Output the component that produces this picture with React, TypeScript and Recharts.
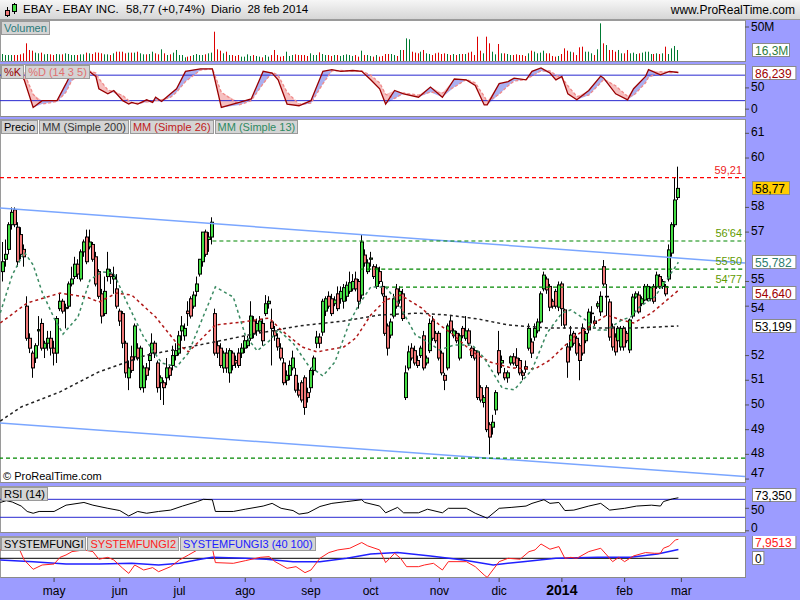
import React from "react";
import {
  ComposedChart,
  Bar,
  Line,
  Area,
  XAxis,
  YAxis,
  ReferenceLine,
} from "recharts";

const FONT = "Arial, 'Liberation Sans', sans-serif";
const LAVENDER = "#9c9cff";
const X_DOMAIN: [number, number] = [-1.1, 248.3];
const GREEN = "#44dd44";
const RED = "#f07878";

// daily candles, 8 abr 2013 .. 28 feb 2014
const opens = [
  55.4, 55.9, 56.3, 57.3, 57.9, 57.2, 56.9, 56.3, 54.0, 52.7,
  52.1, 51.9, 53.0, 53.3, 52.3, 52.5, 52.7, 52.3, 52.1, 53.9,
  54.2, 53.9, 54.0, 54.9, 55.2, 55.7, 55.1, 56.2, 56.8, 56.4,
  56.5, 56.0, 55.4, 54.5, 53.7, 55.2, 55.3, 55.1, 54.7, 53.8,
  53.7, 52.5, 51.1, 51.95, 51.95, 52.3, 50.7, 50.7, 51.5, 51.8,
  52.1, 52.5, 51.7, 50.9, 50.9, 51.1, 51.5, 51.6, 52.0, 52.1,
  53.0, 52.8, 53.8, 54.3, 54.0, 54.6, 55.3, 55.8, 57.0, 56.7,
  56.8, 53.7, 52.4, 52.3, 51.5, 52.1, 51.3, 52.1, 51.8, 52.1,
  52.1, 52.3, 52.4, 52.7, 53.4, 53.0, 53.0, 53.3, 53.7, 54.1,
  53.36, 53.0, 52.7, 52.3, 51.7, 51.0, 51.2, 51.5, 51.2, 50.6,
  50.9, 51.1, 50.5, 50.7, 51.4, 52.5, 52.75, 52.95, 53.8, 54.4,
  54.3, 54.1, 54.5, 54.3, 54.2, 54.4, 54.6, 54.7, 55.1, 55.0,
  54.45, 56.07, 55.4, 55.9, 55.6, 54.8, 55.4, 54.8, 54.4, 53.2,
  52.83, 53.6, 54.7, 54.25, 54.5, 50.3, 51.5, 52.3, 52.2, 51.8,
  52.0, 52.8, 51.7, 52.2, 53.4, 52.9, 52.9, 52.1, 51.2, 51.5,
  53.4, 52.8, 52.9, 51.9, 53.1, 52.7, 53.0, 52.3, 52.2, 52.15,
  50.7, 50.1, 50.7, 49.2, 49.1, 49.8, 52.2, 51.7, 51.3, 51.1,
  51.7, 51.95, 51.9, 51.8, 51.3, 51.55, 52.3, 52.55, 52.75, 53.0,
  53.36, 54.7, 55.1, 54.8, 54.2, 54.6, 53.96, 54.9, 53.85, 52.35,
  52.35, 52.9, 52.7, 52.4, 53.1, 52.6, 53.04, 53.7, 53.4, 54.0,
  53.77, 55.6, 54.4, 54.17, 53.16, 52.75, 52.6, 52.35, 53.1, 52.9,
  52.23, 53.6, 54.37, 54.45, 54.1, 54.25, 54.3, 54.3, 54.8, 54.78,
  55.2, 54.8, 54.8, 55.1, 56.15, 57.3, 58.4,
];
const highs = [
  56.6, 56.7, 57.4, 58.0, 58.0, 57.4, 57.2, 56.5, 54.4, 52.9,
  52.2, 52.5, 53.6, 53.5, 52.6, 53.0, 53.0, 52.6, 53.6, 54.5,
  54.3, 54.1, 55.0, 55.6, 56.0, 55.9, 56.3, 56.7, 57.1, 57.1,
  56.6, 56.2, 55.5, 54.7, 55.2, 56.2, 55.5, 55.6, 55.3, 53.9,
  53.8, 52.6, 51.8, 52.4, 53.3, 52.5, 52.4, 51.6, 51.7, 52.1,
  52.9, 52.6, 51.8, 51.2, 51.0, 51.9, 51.6, 52.4, 52.5, 53.0,
  53.6, 53.3, 54.2, 54.4, 54.6, 55.2, 55.9, 57.0, 57.1, 57.0,
  57.6, 53.9, 52.6, 52.5, 52.2, 52.3, 52.3, 52.2, 52.0, 52.3,
  52.5, 52.8, 52.8, 54.2, 53.6, 53.5, 53.6, 53.5, 54.45, 54.4,
  53.9, 53.2, 52.9, 52.5, 51.9, 51.4, 51.8, 52.2, 51.5, 50.9,
  51.0, 51.2, 50.7, 51.5, 52.0, 53.0, 52.9, 54.3, 54.4, 54.6,
  54.5, 54.4, 54.8, 54.8, 54.9, 55.0, 55.4, 55.3, 55.4, 55.1,
  56.9, 56.3, 55.9, 56.2, 55.7, 55.7, 55.6, 55.0, 54.5, 53.3,
  53.5, 54.5, 54.9, 54.8, 54.7, 51.6, 52.4, 52.5, 52.4, 52.0,
  52.4, 53.0, 52.0, 53.5, 53.6, 53.0, 53.0, 52.2, 51.3, 53.3,
  53.6, 53.1, 53.0, 52.9, 53.2, 53.6, 53.1, 52.4, 52.3, 52.2,
  50.8, 50.4, 50.8, 49.3, 49.6, 50.6, 53.0, 52.0, 51.5, 51.4,
  52.0, 52.1, 52.3, 51.9, 51.4, 51.8, 53.3, 52.7, 53.3, 53.5,
  54.6, 55.4, 55.2, 54.9, 54.3, 54.7, 55.0, 55.0, 53.9, 52.5,
  53.2, 53.0, 52.8, 52.5, 53.3, 53.0, 53.9, 54.0, 53.6, 54.2,
  54.6, 55.87, 54.9, 54.3, 53.3, 52.9, 53.2, 53.2, 53.2, 53.0,
  53.5, 54.5, 54.6, 54.6, 54.4, 54.9, 54.9, 54.8, 54.9, 55.4,
  55.3, 55.1, 54.9, 56.5, 57.4, 59.2, 59.65,
];
const lows = [
  55.0, 55.6, 56.1, 57.1, 57.2, 55.6, 55.9, 55.6, 52.6, 52.1,
  51.1, 51.7, 52.4, 52.2, 51.9, 52.2, 52.0, 51.6, 51.7, 53.8,
  53.7, 53.1, 53.9, 54.8, 55.1, 55.1, 55.0, 56.0, 55.7, 56.3,
  55.8, 54.8, 54.3, 53.3, 53.6, 55.0, 54.9, 54.5, 53.9, 53.2,
  52.3, 51.1, 50.6, 51.3, 51.8, 51.8, 50.6, 50.5, 51.0, 51.4,
  51.9, 51.9, 50.5, 50.2, 50.0, 50.8, 51.0, 51.4, 51.8, 52.0,
  52.6, 52.6, 53.2, 53.5, 53.9, 54.4, 55.2, 55.6, 56.0, 56.2,
  56.5, 52.0, 51.9, 51.5, 51.3, 51.3, 50.9, 51.4, 51.5, 51.5,
  51.9, 52.1, 52.3, 52.6, 52.7, 52.8, 52.9, 52.4, 53.6, 53.9,
  51.6, 52.6, 52.2, 51.8, 50.8, 50.8, 51.0, 51.4, 50.5, 50.3,
  50.1, 49.6, 50.1, 50.5, 51.2, 52.3, 52.3, 52.8, 53.6, 53.9,
  53.6, 54.0, 53.8, 54.1, 53.9, 54.2, 54.5, 54.6, 54.6, 53.9,
  54.3, 55.6, 55.3, 55.6, 55.1, 54.7, 54.9, 54.4, 52.8, 52.0,
  52.7, 53.5, 53.9, 54.1, 53.4, 50.2, 51.4, 51.8, 51.6, 51.5,
  51.9, 51.4, 51.6, 52.1, 52.6, 52.5, 51.8, 51.2, 50.6, 51.4,
  52.9, 52.7, 52.5, 51.8, 52.7, 52.6, 52.4, 51.9, 51.8, 50.2,
  50.1, 49.9, 48.9, 48.0, 48.8, 49.6, 51.2, 51.5, 51.0, 50.9,
  51.6, 51.6, 51.5, 51.2, 51.0, 51.3, 52.2, 51.9, 52.6, 52.9,
  53.3, 54.6, 54.5, 53.8, 53.9, 53.9, 53.8, 53.2, 53.1, 51.1,
  52.2, 52.4, 52.0, 51.0, 52.0, 52.5, 52.9, 53.3, 53.2, 53.9,
  53.6, 54.8, 53.6, 52.6, 52.2, 52.0, 52.5, 52.2, 52.2, 52.5,
  52.1, 53.5, 54.3, 53.7, 54.0, 54.2, 54.2, 54.2, 54.1, 54.7,
  54.7, 54.7, 54.4, 55.0, 56.0, 57.2, 58.3,
];
const closes = [
  55.8, 56.1, 57.3, 57.8, 57.3, 55.8, 56.1, 56.0, 52.7, 52.3,
  51.5, 52.4, 53.05, 52.3, 52.5, 52.7, 52.3, 52.1, 53.5, 54.2,
  53.8, 53.95, 54.9, 55.1, 55.7, 55.3, 56.2, 56.6, 55.8, 56.6,
  55.9, 54.9, 54.4, 53.6, 54.6, 55.5, 55.2, 55.2, 54.0, 53.4,
  52.5, 51.3, 51.5, 51.4, 53.2, 51.9, 52.3, 51.5, 51.2, 52.0,
  52.5, 52.1, 50.7, 51.1, 50.7, 51.5, 51.2, 52.0, 52.2, 52.8,
  53.2, 53.1, 53.7, 53.6, 54.45, 54.9, 55.9, 57.0, 56.1, 56.8,
  57.4, 52.1, 52.1, 51.6, 52.1, 51.5, 52.2, 51.6, 51.7, 51.6,
  52.3, 52.6, 52.6, 53.6, 52.9, 53.3, 53.4, 52.6, 54.1, 54.2,
  53.1, 52.8, 52.35, 51.9, 50.9, 51.2, 51.6, 51.9, 50.6, 50.4,
  50.2, 49.9, 50.3, 51.4, 51.9, 52.75, 52.5, 54.2, 54.3, 54.0,
  53.7, 54.25, 53.9, 54.6, 54.75, 54.85, 54.95, 55.0, 54.7, 54.2,
  56.6, 55.75, 55.75, 55.95, 55.2, 55.55, 55.0, 54.5, 52.9, 52.3,
  53.36, 54.3, 54.0, 54.6, 53.5, 51.3, 52.15, 51.9, 51.7, 51.6,
  52.3, 51.5, 51.9, 53.3, 52.7, 52.6, 51.9, 51.3, 51.0, 53.2,
  53.0, 53.0, 52.6, 52.8, 52.8, 53.0, 52.5, 52.0, 51.9, 50.3,
  50.2, 50.3, 49.0, 48.7, 49.3, 50.5, 51.3, 51.8, 51.1, 51.3,
  51.95, 51.7, 51.6, 51.3, 51.2, 51.45, 53.1, 52.1, 53.1, 53.36,
  54.5, 55.26, 54.66, 53.96, 54.0, 54.0, 54.86, 53.9, 53.24, 51.74,
  52.83, 52.5, 52.1, 51.8, 52.1, 52.9, 53.76, 53.72, 53.3, 54.1,
  54.4, 54.9, 54.4, 52.75, 52.35, 52.15, 53.1, 53.1, 52.35, 52.6,
  53.44, 54.37, 54.5, 53.77, 54.3, 54.8, 54.8, 54.75, 54.2, 55.26,
  54.8, 55.0, 54.5, 56.28, 57.3, 58.3, 58.77,
];
// volume in millions
const volumes = [
  10.3, 8.8, 8.8, 8.8, 8.8, 8.8, 9.8, 11.3, 26.0, 16.2,
  15.2, 12.3, 11.3, 12.3, 9.8, 10.3, 9.8, 8.8, 10.3, 9.8,
  9.8, 11.3, 10.3, 8.8, 8.8, 8.8, 9.8, 9.8, 12.3, 11.3,
  10.3, 12.7, 12.3, 11.3, 9.8, 9.8, 8.8, 11.3, 13.7, 13.7,
  13.7, 11.3, 12.3, 12.3, 12.3, 13.7, 11.3, 9.8, 9.8, 10.3,
  13.7, 11.3, 9.8, 17.2, 11.3, 8.8, 9.8, 12.3, 16.2, 8.8,
  8.8, 5.4, 6.4, 7.4, 8.8, 10.3, 8.8, 8.8, 9.8, 11.3,
  12.3, 43.1, 17.2, 15.2, 11.3, 13.7, 8.8, 8.8, 7.4, 8.8,
  6.4, 6.4, 9.8, 7.4, 8.8, 7.4, 6.4, 5.4, 8.8, 6.4,
  8.8, 16.2, 8.8, 6.4, 7.4, 13.7, 7.4, 8.8, 9.8, 8.8,
  8.8, 8.8, 7.4, 11.3, 8.8, 8.8, 12.7, 10.3, 8.8, 8.8,
  7.4, 8.8, 8.8, 7.4, 8.8, 9.8, 8.8, 7.4, 8.8, 6.4,
  15.2, 8.8, 8.8, 7.4, 6.4, 8.8, 6.4, 7.4, 10.3, 10.3,
  10.3, 8.8, 7.4, 16.2, 16.2, 33.3, 31.9, 13.7, 12.3, 11.3,
  13.7, 16.2, 11.3, 10.3, 8.8, 11.3, 12.3, 10.3, 11.3, 10.3,
  8.8, 10.3, 8.8, 10.3, 10.3, 10.3, 12.3, 13.7, 8.8, 35.8,
  15.2, 11.3, 35.8, 26.0, 13.7, 9.8, 25.0, 11.3, 11.3, 10.3,
  8.8, 8.8, 9.8, 8.8, 8.8, 7.4, 11.3, 15.2, 13.7, 11.3,
  12.3, 15.2, 11.3, 11.3, 7.4, 6.4, 7.4, 10.3, 18.6, 15.2,
  13.7, 12.7, 8.8, 20.1, 21.1, 13.7, 13.7, 11.3, 8.8, 17.2,
  55.4, 26.0, 23.5, 16.2, 16.2, 13.7, 16.2, 11.3, 11.3, 16.2,
  11.3, 12.3, 10.3, 11.3, 12.3, 13.7, 13.7, 10.3, 10.3, 11.3,
  10.3, 11.3, 21.1, 10.3, 18.6, 22.1, 16.2,
];

// moving averages (day index, value)
const sma200Days = [-1, 6, 19, 32, 48, 57, 69, 82, 99, 114, 126, 139, 149, 159, 169, 182, 199, 212, 226];
const sma200Vals = [49.35, 49.92, 50.53, 51.34, 52.02, 52.23, 52.51, 52.83, 53.2, 53.4, 53.64, 53.72, 53.64, 53.48, 53.24, 53.12, 53.12, 53.12, 53.199];
const sma26Days = [-1, 8, 19, 28, 32, 38, 43, 51, 58, 62, 71, 80, 89, 93, 100, 105, 114, 118, 123, 128, 133, 140, 146, 150, 157, 163, 170, 178, 183, 191, 198, 202, 207, 211, 217, 221, 226];
const sma26Vals = [53.32, 54.13, 54.53, 54.37, 54.17, 54.53, 54.45, 53.56, 52.51, 52.15, 53.24, 53.36, 53.52, 53.04, 52.35, 52.15, 52.35, 52.71, 53.64, 54.25, 54.45, 53.93, 53.24, 52.91, 52.15, 51.74, 51.5, 51.46, 51.82, 52.75, 53.32, 53.64, 53.44, 53.32, 53.72, 54.13, 54.64];
const sma13Days = [-1, 3, 7, 10, 13, 17, 20, 25, 29, 33, 37, 41, 47, 53, 58, 62, 67, 71, 77, 81, 85, 89, 92, 97, 102, 107, 111, 116, 119, 123, 128, 132, 138, 141, 146, 151, 157, 161, 167, 171, 177, 182, 187, 190, 195, 199, 202, 207, 210, 213, 218, 222, 226];
const sma13Vals = [53.73, 55.26, 56.19, 55.67, 54.57, 53.52, 52.87, 53.56, 55.06, 55.39, 55.34, 54.25, 52.75, 51.7, 51.54, 52.11, 53.6, 54.78, 54.37, 52.83, 52.19, 52.59, 53.04, 52.51, 51.62, 51.17, 51.74, 53.36, 54.05, 54.78, 54.78, 54.17, 52.83, 52.63, 52.23, 52.43, 52.43, 51.9, 50.69, 50.61, 51.42, 52.91, 53.72, 53.85, 53.44, 53.04, 53.04, 53.44, 53.56, 53.97, 54.37, 55.06, 55.78];

// stochastic %K / %D (14 3 5)
const stochDays = [0, 3, 5, 7, 10, 13, 18, 21, 23, 28, 31, 32, 35, 37, 40, 42, 43, 45, 48, 50, 51, 53, 56, 58, 61, 66, 70, 73, 79, 83, 87, 90, 92, 95, 99, 103, 107, 110, 113, 117, 120, 123, 126, 128, 131, 134, 139, 143, 147, 151, 155, 158, 161, 162, 166, 169, 171, 175, 177, 180, 183, 185, 187, 189, 192, 196, 200, 201, 205, 209, 211, 215, 216, 220, 223, 226];
const stochK = [78, 92, 90, 69, 4, 20, 20, 60, 89, 93, 77, 48, 36, 44, 20, 12, 16, 12, 22, 16, 28, 18, 36, 48, 89, 95, 95, 4, 16, 24, 89, 85, 69, 12, 8, 20, 89, 93, 89, 91, 89, 69, 48, 12, 44, 36, 28, 52, 28, 71, 69, 56, 10, 10, 60, 65, 73, 69, 89, 97, 85, 69, 77, 36, 22, 44, 78, 73, 36, 22, 48, 77, 93, 81, 89, 86.24];
const stochD = [75, 85, 90, 85, 35, 12, 18, 40, 68, 92, 85, 72, 45, 40, 32, 20, 15, 14, 17, 18, 20, 22, 28, 40, 65, 92, 95, 40, 10, 20, 60, 87, 80, 40, 12, 14, 60, 90, 91, 90, 90, 80, 62, 35, 25, 38, 33, 40, 38, 52, 70, 62, 30, 18, 35, 55, 66, 70, 78, 90, 90, 80, 74, 55, 30, 33, 62, 70, 55, 30, 32, 62, 75, 88, 86, 87];

// RSI (14)
const rsiDays = [-1, 1, 3, 6, 8, 10, 12, 17, 21, 27, 30, 35, 39, 42, 45, 48, 52, 56, 60, 65, 67, 70, 71, 77, 81, 87, 90, 93, 97, 99, 102, 106, 110, 115, 120, 121, 126, 128, 132, 134, 139, 142, 147, 149, 155, 158, 162, 166, 170, 175, 177, 181, 183, 186, 188, 191, 196, 200, 203, 208, 212, 217, 220, 221, 224, 226];
const rsiVals = [63, 67, 64, 55, 43, 39, 43, 43, 57, 63, 57, 50, 45, 33, 43, 39, 43, 46, 55, 65, 70, 69, 43, 43, 48, 55, 61, 50, 45, 37, 40, 54, 61, 65, 69, 63, 55, 40, 52, 40, 40, 48, 40, 50, 50, 39, 28, 50, 52, 55, 61, 69, 61, 63, 45, 46, 55, 61, 46, 50, 55, 57, 55, 65, 71, 73.35];

// SYSTEMFUNGI2 (red) and SYSTEMFUNGI3 (blue)
const fungi2Days = [-1, 5, 7, 10, 13, 17, 19, 21, 23, 27, 30, 32, 35, 37, 40, 42, 44, 47, 50, 52, 56, 59, 62, 65, 70, 71, 77, 81, 86, 89, 91, 95, 98, 101, 103, 106, 109, 112, 116, 120, 122, 126, 128, 131, 133, 135, 139, 141, 144, 147, 149, 155, 158, 161, 162, 166, 169, 173, 176, 178, 180, 183, 186, 188, 190, 192, 196, 200, 202, 204, 206, 208, 211, 215, 218, 220, 221, 223, 225, 226];
const fungi2Vals = [3.5, 4.9, -0.7, -4.6, -2.8, -2.4, 0.4, 1.4, 2.8, 3.5, 2.8, -0.4, 0.4, -0.7, -4.2, -6.3, -2.8, -4.9, -3.9, -5.6, -3.5, -0.7, 1.4, 3.5, 4.2, -1.8, -2.1, -1.0, 0.4, 0.7, -1.4, -4.2, -3.5, -6.0, -4.9, 0, 2.4, 3.5, 4.2, 6.6, 5.2, 3.5, -1.8, 2.1, 0, -3.5, -3.5, -2.8, -2.1, -4.9, -1.4, -1.4, -3.5, -7.0, -8.0, -1.4, 0, -0.4, 2.8, 3.5, 6.0, 3.8, 4.9, 0, 0.4, 0, 2.8, 4.2, 1.4, -1.4, 0.4, -1.4, 1.0, 2.4, 2.1, 2.1, 4.2, 5.2, 7.7, 7.95];
const fungi3Days = [-1, 10, 21, 32, 43, 52, 59, 66, 70, 81, 88, 97, 106, 115, 123, 132, 143, 154, 164, 174, 185, 199, 210, 219, 226];
const fungi3Vals = [-0.7, -1.4, -2.4, -2.4, -2.1, -2.8, -2.1, -0.4, 0.4, 0, -0.4, -1.4, -1.4, 0, 1.8, 2.4, 1.0, -0.7, -2.8, -1.4, 0, 0.4, 0.4, 1.8, 3.7];

const monthTicks = [17, 39, 59, 81, 103, 123, 146, 166, 187, 208, 227];
const monthLabels = ["may", "jun", "jul", "ago", "sep", "oct", "nov", "dic", "2014", "feb", "mar"];
const priceTicks = [47, 48, 49, 50, 51, 52, 54, 55, 57, 58, 60, 61];

const candles = closes.map((c, i) => ({
  i,
  o: opens[i],
  h: highs[i],
  l: lows[i],
  c,
  v: volumes[i],
  up: c >= opens[i],
}));
const pairs = (days: number[], vals: number[]) => days.map((i, k) => ({ i, v: vals[k] }));
const stochData = stochDays.map((i, k) => ({ i, k: stochK[k], d: stochD[k] }));

function Candle(props: any) {
  const { x, y, width, height, payload } = props;
  if (!payload || x == null || y == null) return null;
  const { o, h, l, c } = payload;
  const top = Math.min(y, y + height);
  const span = Math.abs(height);
  const toY = (v: number) => (h === l ? top : top + ((h - v) / (h - l)) * span);
  const px = Math.round(x + width / 2);
  const bTop = toY(Math.max(o, c));
  const bBot = toY(Math.min(o, c));
  return (
    <g>
      <line x1={px - 0.5} x2={px - 0.5} y1={top} y2={top + span} stroke="#000" strokeWidth={1} />
      <rect
        x={px - 1.5}
        y={bTop}
        width={3}
        height={Math.max(bBot - bTop, 0.6)}
        fill={c >= o ? GREEN : RED}
        stroke="#000"
        strokeWidth={1}
      />
    </g>
  );
}

function VolBar(props: any) {
  const { x, y, width, height, payload } = props;
  if (!payload || x == null) return null;
  const px = Math.round(x + width / 2) - 1;
  return <rect x={px} y={y} width={1} height={height} fill={payload.up ? "#007a33" : "#dd0000"} />;
}

// right-axis tick text; maxY keeps a bottom label inside its panel,
// nudge moves single labels that sit against a value box
const axisTick =
  (fmt?: (v: number) => string, maxY = 9999, dy = 3.5, nudge: Record<number, number> = {}) =>
  (p: any) => {
    const v = p.payload.value;
    return (
      <text x={p.x} y={Math.min(p.y, maxY) + dy + (nudge[v] ?? 0)} fontSize={12} fontFamily={FONT} fill="#000">
        {fmt ? fmt(v) : String(v)}
      </text>
    );
  };

const valueTag =
  (text: string, color: string, bg = "#ffffff", shift = 0) =>
  (props: any) => {
    const vb = props.viewBox || {};
    const x = (vb.x ?? 0) + (vb.width ?? 0) + 7;
    const y = Math.round((vb.y ?? 0) + shift);
    const w = text.length * 6.4 + 5;
    return (
      <g>
        <rect x={x + 0.5} y={y - 6.5} width={w} height={13} fill={bg} stroke="#8a8a8a" />
        <text x={x + 3} y={y + 4.5} fontSize={12} fontFamily={FONT} fill={color}>
          {text}
        </text>
      </g>
    );
  };

const lineNote = (text: string, color: string) => (props: any) => {
  const vb = props.viewBox || {};
  return (
    <text
      x={(vb.x ?? 0) + (vb.width ?? 0) - 3}
      y={(vb.y ?? 0) - 4}
      textAnchor="end"
      fontSize={11}
      fontFamily={FONT}
      fill={color}
    >
      {text}
    </text>
  );
};

function Tags({ top, items }: { top: number; items: { text: string; color: string }[] }) {
  return (
    <div style={{ position: "absolute", left: 1, top, display: "flex" }}>
      {items.map((it) => (
        <span
          key={it.text}
          style={{
            background: "#d4d4d4",
            border: "1px solid #9a9a9a",
            color: it.color,
            font: `11px ${FONT}`,
            lineHeight: "12px",
            padding: "0 2px",
            marginRight: 1,
            whiteSpace: "nowrap",
          }}
        >
          {it.text}
        </span>
      ))}
    </div>
  );
}

function PanelBg({ top, height }: { top: number; height: number }) {
  return (
    <div
      style={{
        position: "absolute",
        left: 0,
        top,
        width: 746,
        height,
        background: "#fff",
        borderLeft: "1px solid #9a9a9a",
        borderTop: "1px solid #9a9a9a",
        borderRight: "1px solid #8a8a8a",
        borderBottom: "1px solid #8a8a8a",
        boxSizing: "border-box",
      }}
    />
  );
}

const hiddenX = <XAxis type="number" dataKey="i" domain={X_DOMAIN} hide allowDataOverflow />;

export default function App() {
  return (
    <div
      style={{
        position: "absolute",
        left: 0,
        top: 0,
        width: 800,
        height: 600,
        overflow: "hidden",
        background: LAVENDER,
        fontFamily: FONT,
      }}
    >
      {/* title bar */}
      <div
        style={{
          position: "absolute",
          left: 0,
          top: 0,
          width: 800,
          height: 20,
          background: "linear-gradient(#f6f6f6, #d6d6d6)",
          borderBottom: "1px solid #9a9a9a",
          boxSizing: "border-box",
          font: `11px ${FONT}`,
          color: "#000",
        }}
      >
        <svg width={16} height={16} style={{ position: "absolute", left: 3, top: 2 }}>
          <line x1={4.5} x2={4.5} y1={5} y2={15} stroke="#000" />
          <rect x={2.5} y={8.5} width={4} height={5} fill="#f07878" stroke="#000" />
          <line x1={11.5} x2={11.5} y1={1} y2={12} stroke="#000" />
          <rect x={9.5} y={2.5} width={4} height={7} fill="#44dd44" stroke="#000" />
        </svg>
        <span style={{ position: "absolute", left: 23, top: 3, fontSize: 11.5 }}>EBAY - EBAY INC.</span>
        <span style={{ position: "absolute", left: 126, top: 3, fontSize: 11.5 }}>58,77 (+0,74%)</span>
        <span style={{ position: "absolute", left: 211, top: 3, fontSize: 11.5 }}>Diario&nbsp;&nbsp;28 feb 2014</span>
        <span style={{ position: "absolute", right: 5, top: 3, fontSize: 12 }}>www.ProRealTime.com</span>
      </div>

      <PanelBg top={20} height={42} />
      <PanelBg top={64} height={53} />
      <PanelBg top={119} height={364} />
      <PanelBg top={486} height={47} />
      <PanelBg top={536} height={42} />

      {/* volume */}
      <div style={{ position: "absolute", left: 0, top: 20 }}>
        <ComposedChart width={800} height={41} data={candles} margin={{ top: 0, right: 0, bottom: 0, left: 0 }}>
          {hiddenX}
          <YAxis
            orientation="right"
            width={55}
            domain={[0, 60.3]}
            ticks={[50]}
            interval={0}
            tick={axisTick((v) => `${v}M`)}
            tickSize={4}
            tickLine={{ stroke: "#555" }}
            axisLine={false}
            allowDataOverflow
          />
          <Bar dataKey="v" barSize={1} shape={VolBar} isAnimationActive={false} />
          <ReferenceLine y={16.3} stroke="none" label={valueTag("16,3M", "#2e7d3e")} />
        </ComposedChart>
      </div>

      {/* stochastic */}
      <div style={{ position: "absolute", left: 0, top: 64 }}>
        <ComposedChart width={800} height={53} data={stochData} margin={{ top: 0, right: 0, bottom: 0, left: 0 }}>
          {hiddenX}
          <YAxis
            orientation="right"
            width={55}
            domain={[-18.5, 106.3]}
            ticks={[0, 50]}
            interval={0}
            tick={axisTick()}
            tickSize={4}
            tickLine={{ stroke: "#555" }}
            axisLine={false}
            allowDataOverflow
          />
          <Area
            dataKey={(d: any) => (d.k > d.d ? [d.d, d.k] : [d.k, d.k])}
            stroke="none"
            fill="#aab0f0"
            fillOpacity={1}
            isAnimationActive={false}
          />
          <Area
            dataKey={(d: any) => (d.d > d.k ? [d.k, d.d] : [d.k, d.k])}
            stroke="none"
            fill="#f6c0c0"
            fillOpacity={1}
            isAnimationActive={false}
          />
          <ReferenceLine y={80} stroke="#2828d0" />
          <ReferenceLine y={20} stroke="#2828d0" />
          <Line dataKey="d" stroke="#f08a8a" strokeWidth={1.3} strokeDasharray="3 2" dot={false} isAnimationActive={false} />
          <Line dataKey="k" stroke="#990000" strokeWidth={1.3} dot={false} isAnimationActive={false} />
          <ReferenceLine y={86.239} stroke="none" label={valueTag("86,239", "#a00000")} />
        </ComposedChart>
      </div>

      {/* price */}
      <div style={{ position: "absolute", left: 0, top: 119 }}>
        <ComposedChart width={800} height={364} data={candles} margin={{ top: 0, right: 0, bottom: 0, left: 0 }}>
          {hiddenX}
          <YAxis
            orientation="right"
            width={55}
            domain={[46.84, 61.58]}
            ticks={priceTicks}
            interval={0}
            tick={axisTick(undefined, 355, 3, { 55: -1.5, 54: 2.5 })}
            tickSize={4}
            tickLine={{ stroke: "#555" }}
            axisLine={false}
            allowDataOverflow
          />
          <ReferenceLine
            segment={[{ x: X_DOMAIN[0], y: 57.98 }, { x: X_DOMAIN[1], y: 55.75 }]}
            stroke="#7aa6ff"
            strokeWidth={1.5}
            ifOverflow="hidden"
          />
          <ReferenceLine
            segment={[{ x: X_DOMAIN[0], y: 49.27 }, { x: X_DOMAIN[1], y: 47.1 }]}
            stroke="#7aa6ff"
            strokeWidth={1.5}
            ifOverflow="hidden"
          />
          <ReferenceLine
            segment={[{ x: X_DOMAIN[0], y: 59.21 }, { x: X_DOMAIN[1], y: 59.21 }]}
            stroke="#ff0000"
            strokeWidth={1.2}
            strokeDasharray="4 3"
            label={lineNote("59,21", "#ee2222")}
          />
          <ReferenceLine
            segment={[{ x: 70, y: 56.64 }, { x: X_DOMAIN[1], y: 56.64 }]}
            stroke="#008800"
            strokeWidth={1.2}
            strokeDasharray="4 3"
            label={lineNote("56'64", "#5f9a00")}
          />
          <ReferenceLine
            segment={[{ x: 119.5, y: 55.5 }, { x: X_DOMAIN[1], y: 55.5 }]}
            stroke="#008800"
            strokeWidth={1.2}
            strokeDasharray="4 3"
            label={lineNote("55'50", "#5f9a00")}
          />
          <ReferenceLine
            segment={[{ x: 127.8, y: 54.77 }, { x: X_DOMAIN[1], y: 54.77 }]}
            stroke="#008800"
            strokeWidth={1.2}
            strokeDasharray="4 3"
            label={lineNote("54'77", "#5f9a00")}
          />
          <ReferenceLine y={47.85} stroke="#008800" strokeWidth={1.2} strokeDasharray="4 3" />
          <Line data={pairs(sma200Days, sma200Vals)} dataKey="v" stroke="#222" strokeWidth={1.5} strokeDasharray="3 3" dot={false} isAnimationActive={false} />
          <Line data={pairs(sma26Days, sma26Vals)} dataKey="v" stroke="#b01818" strokeWidth={1.5} strokeDasharray="3 3" dot={false} isAnimationActive={false} />
          <Line data={pairs(sma13Days, sma13Vals)} dataKey="v" stroke="#3a8a62" strokeWidth={1.5} strokeDasharray="3 3" dot={false} isAnimationActive={false} />
          <Bar dataKey={(d: any) => [d.l, d.h]} barSize={3} shape={Candle} isAnimationActive={false} />
          <ReferenceLine y={58.77} stroke="none" label={valueTag("58,77", "#000", "#ffcc00")} />
          <ReferenceLine y={55.782} stroke="none" label={valueTag("55,782", "#2e7d6e")} />
          <ReferenceLine y={54.64} stroke="none" label={valueTag("54,640", "#a00000", "#ffffff", 3)} />
          <ReferenceLine y={53.199} stroke="none" label={valueTag("53,199", "#000")} />
        </ComposedChart>
      </div>

      {/* RSI */}
      <div style={{ position: "absolute", left: 0, top: 486 }}>
        <ComposedChart width={800} height={47} data={pairs(rsiDays, rsiVals)} margin={{ top: 0, right: 0, bottom: 0, left: 0 }}>
          {hiddenX}
          <YAxis
            orientation="right"
            width={55}
            domain={[-4.9, 99.6]}
            ticks={[0, 50]}
            interval={0}
            tick={axisTick(undefined, 41, 4.5, { 50: 1.5 })}
            tickSize={4}
            tickLine={{ stroke: "#555" }}
            axisLine={false}
            allowDataOverflow
          />
          <ReferenceLine y={70} stroke="#2828d0" />
          <ReferenceLine y={30} stroke="#2828d0" />
          <Line dataKey="v" stroke="#000" strokeWidth={1} dot={false} isAnimationActive={false} />
          <ReferenceLine y={73.35} stroke="none" label={valueTag("73,350", "#000", "#ffffff", -3)} />
        </ComposedChart>
      </div>

      {/* SYSTEMFUNGI + time axis */}
      <div style={{ position: "absolute", left: 0, top: 536 }}>
        <ComposedChart width={800} height={64} margin={{ top: 0, right: 0, bottom: 0, left: 0 }}>
          <XAxis
            type="number"
            dataKey="i"
            domain={X_DOMAIN}
            ticks={monthTicks}
            interval={0}
            height={22}
            axisLine={false}
            tickSize={4}
            tickLine={{ stroke: "#444" }}
            allowDataOverflow
            tick={(p: any) => {
              const label = monthLabels[monthTicks.indexOf(p.payload.value)];
              const bold = label === "2014";
              return (
                <text
                  x={p.x}
                  y={p.y + 11}
                  textAnchor="middle"
                  fontSize={bold ? 14 : 12}
                  fontWeight={bold ? "bold" : "normal"}
                  fontFamily={FONT}
                  fill="#000"
                >
                  {label}
                </text>
              );
            }}
          />
          <YAxis orientation="right" width={55} domain={[-8.24, 9.33]} ticks={[]} axisLine={false} allowDataOverflow />
          <ReferenceLine segment={[{ x: X_DOMAIN[0], y: 0 }, { x: 226, y: 0 }]} stroke="#000" />
          <Line data={pairs(fungi3Days, fungi3Vals)} dataKey="v" stroke="#2020ff" strokeWidth={1.5} dot={false} isAnimationActive={false} />
          <Line data={pairs(fungi2Days, fungi2Vals)} dataKey="v" stroke="#ff2020" strokeWidth={1} dot={false} isAnimationActive={false} />
          <ReferenceLine y={7.95} stroke="none" label={valueTag("7,9513", "#ff2020", "#ffffff", 3)} />
          <ReferenceLine y={0} stroke="none" label={valueTag("0", "#000")} />
        </ComposedChart>
      </div>

      <Tags top={21} items={[{ text: "Volumen", color: "#2a7a7a" }]} />
      <Tags
        top={65}
        items={[
          { text: "%K", color: "#990000" },
          { text: "%D (14 3 5)", color: "#e07070" },
        ]}
      />
      <Tags
        top={120}
        items={[
          { text: "Precio", color: "#000" },
          { text: "MM (Simple 200)", color: "#333" },
          { text: "MM (Simple 26)", color: "#c02020" },
          { text: "MM (Simple 13)", color: "#2e8a62" },
        ]}
      />
      <div style={{ position: "absolute", left: 3, top: 470, font: `11px ${FONT}`, color: "#000" }}>
        © ProRealTime.com
      </div>
      <Tags top={487} items={[{ text: "RSI (14)", color: "#000" }]} />
      <Tags
        top={537}
        items={[
          { text: "SYSTEMFUNGI", color: "#000" },
          { text: "SYSTEMFUNGI2", color: "#ff2020" },
          { text: "SYSTEMFUNGI3 (40 100)", color: "#2020ff" },
        ]}
      />
    </div>
  );
}
